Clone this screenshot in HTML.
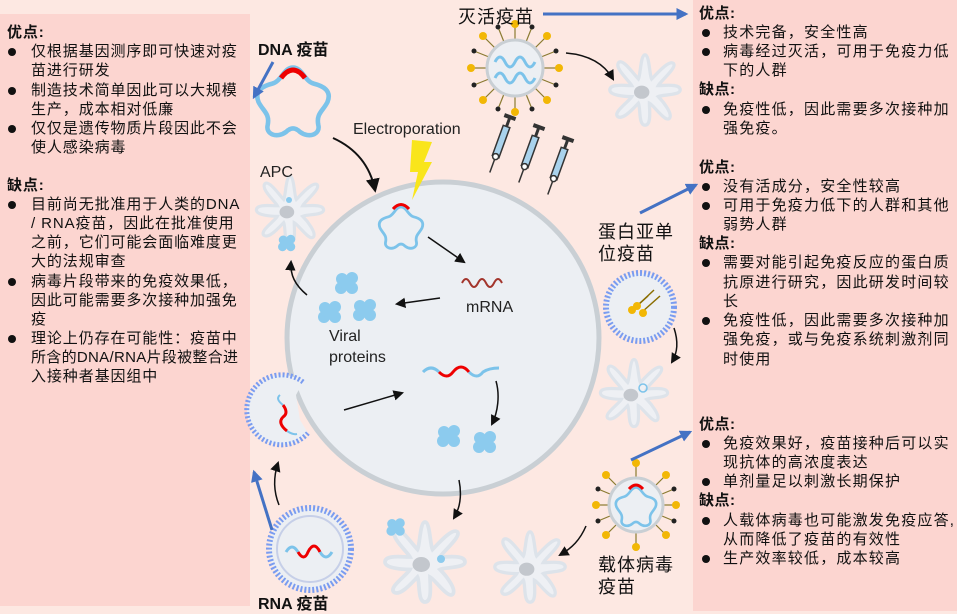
<!DOCTYPE html>
<html><head><meta charset="utf-8">
<style>
html,body{margin:0;padding:0;}
body{width:957px;height:611px;position:relative;overflow:hidden;background:#fde8e2;font-family:"Liberation Sans","Noto Sans CJK SC",sans-serif;}
.box{position:absolute;background:#fcd5d0;}
.t{position:absolute;font-size:15px;letter-spacing:1.2px;line-height:19px;white-space:nowrap;color:#111;font-family:"Liberation Sans","Noto Sans CJK SC",sans-serif;}
.l .t{letter-spacing:0.9px;}
.h{font-weight:bold;letter-spacing:0.5px;}
.b{position:absolute;width:8px;height:8px;border-radius:50%;background:#111;}
svg{position:absolute;left:0;top:0;}
.lab{position:absolute;font-size:18px;white-space:nowrap;color:#111;font-family:"Liberation Sans","Noto Sans CJK SC",sans-serif;letter-spacing:1px;}
</style></head><body>
<div class="box" style="left:0;top:14px;width:250px;height:592px;"></div>
<div class="box" style="left:693px;top:0;width:264px;height:611px;"></div>

<svg width="957" height="611" viewBox="0 0 957 611">
<defs>
<marker id="ah" viewBox="0 0 10 10" refX="8" refY="5" markerWidth="7" markerHeight="7" orient="auto"><path d="M0,0 L10,5 L0,10 z" fill="#111"/></marker>
<marker id="bh" viewBox="0 0 10 10" refX="8" refY="5" markerWidth="4" markerHeight="4" orient="auto"><path d="M0,0 L10,5 L0,10 z" fill="#4472c4"/></marker>
<g id="apc">
<path d="M0,-32 C4,-32 4,-14 6,-10 C10,-14 22,-28 26,-24 C29,-20 14,-8 12,-4 C18,-4 32,-6 32,0 C32,5 16,4 12,6 C16,10 26,22 22,26 C18,29 8,14 4,12 C4,18 6,32 0,32 C-6,32 -4,16 -6,12 C-10,16 -20,28 -25,24 C-29,20 -14,10 -12,6 C-18,6 -32,5 -32,0 C-32,-6 -18,-4 -12,-4 C-14,-8 -28,-20 -24,-25 C-20,-29 -10,-14 -6,-10 C-4,-14 -4,-32 0,-32 Z" fill="#eef0f4" stroke="#dde3ea" stroke-width="3"/>
<ellipse cx="-3" cy="2" rx="7" ry="6" fill="#c3c7cd"/>
</g>
<g id="blob"><circle cx="-5" cy="-4" r="6" fill="#8ccbee"/><circle cx="5" cy="-5" r="6" fill="#8ccbee"/><circle cx="-6" cy="5" r="6" fill="#8ccbee"/><circle cx="5" cy="5" r="6" fill="#8ccbee"/><circle cx="0" cy="0" r="7" fill="#8ccbee"/></g>
<path id="star" d="M0,-30 C8,-30 10,-18 18,-16 C26,-14 34,-10 30,0 C26,8 20,10 22,20 C24,28 14,32 6,26 C2,22 -2,22 -6,26 C-14,32 -24,28 -22,20 C-20,10 -26,8 -30,0 C-34,-10 -26,-14 -18,-16 C-10,-18 -8,-30 0,-30 Z" fill="none" stroke="#7cc3ea" stroke-width="4"/>
</defs>

<!-- big cell -->
<circle cx="443" cy="338" r="156" fill="#eceff3" stroke="#c9cfd4" stroke-width="5"/>

<!-- RNA fused liposome -->
<path d="M303,382 A35,35 0 1 0 308,433 L300,420 L296,395 Z" fill="#eceff3"/>
<path d="M303,382 A35,35 0 1 0 308,433" stroke="#7a9cf0" stroke-width="5" stroke-dasharray="2 2" fill="none"/>
<path d="M283,405 q6,8 0,12 q-6,6 4,14" stroke="#e00" stroke-width="3" fill="none"/>
<path d="M283,405 q-8,-6 -3,-10" stroke="#7cc3ea" stroke-width="2" fill="none"/>
<path d="M287,431 q6,4 10,3" stroke="#7cc3ea" stroke-width="2" fill="none"/>

<!-- inactivated virus -->
<g transform="translate(515,68)">
<g stroke="#8a7a30" stroke-width="1.2">
<line x1="0" y1="-28" x2="0" y2="-44"/><line x1="0" y1="28" x2="0" y2="44"/><line x1="-28" y1="0" x2="-44" y2="0"/><line x1="28" y1="0" x2="44" y2="0"/>
<line x1="20" y1="20" x2="32" y2="32"/><line x1="-20" y1="20" x2="-32" y2="32"/><line x1="20" y1="-20" x2="32" y2="-32"/><line x1="-20" y1="-20" x2="-32" y2="-32"/>
<line x1="26" y1="11" x2="41" y2="17"/><line x1="-26" y1="11" x2="-41" y2="17"/><line x1="26" y1="-11" x2="41" y2="-17"/><line x1="-26" y1="-11" x2="-41" y2="-17"/>
<line x1="11" y1="26" x2="17" y2="41"/><line x1="-11" y1="26" x2="-17" y2="41"/><line x1="11" y1="-26" x2="17" y2="-41"/><line x1="-11" y1="-26" x2="-17" y2="-41"/>
</g>
<g fill="#f2b705">
<circle cx="0" cy="-44" r="4"/><circle cx="0" cy="44" r="4"/><circle cx="-44" cy="0" r="4"/><circle cx="44" cy="0" r="4"/>
<circle cx="32" cy="32" r="4"/><circle cx="-32" cy="32" r="4"/><circle cx="32" cy="-32" r="4"/><circle cx="-32" cy="-32" r="4"/>
</g>
<g fill="#222"><circle cx="41" cy="17" r="2.5"/><circle cx="-41" cy="17" r="2.5"/><circle cx="41" cy="-17" r="2.5"/><circle cx="-41" cy="-17" r="2.5"/>
<circle cx="17" cy="41" r="2.5"/><circle cx="-17" cy="41" r="2.5"/><circle cx="17" cy="-41" r="2.5"/><circle cx="-17" cy="-41" r="2.5"/></g>
<circle r="28" fill="#eceff3" stroke="#c9cfd4" stroke-width="3"/>
<path d="M-20,-6 q5,-10 10,0 q5,10 10,0 q5,-10 10,0 q5,10 10,0" stroke="#7cc3ea" stroke-width="3" fill="none"/>
<path d="M-20,10 q5,-10 10,0 q5,10 10,0 q5,-10 10,0 q5,10 10,0" stroke="#7cc3ea" stroke-width="3" fill="none"/>
</g>
<path d="M566,53 C590,55 605,65 613,79" stroke="#111" stroke-width="1.5" fill="none" marker-end="url(#ah)"/>
<use href="#apc" transform="translate(645,90) scale(1.1)"/>

<!-- syringes -->
<g stroke="#333" stroke-width="1.5">
<g transform="translate(498,150) rotate(20)"><rect x="-3.5" y="-25" width="7" height="32" fill="#a9d2ec"/><line x1="0" y1="-25" x2="0" y2="-35" stroke-width="3"/><line x1="-6" y1="-35" x2="6" y2="-35" stroke-width="4"/><line x1="0" y1="7" x2="0" y2="24"/><circle cx="0" cy="7" r="3" fill="#fff"/></g>
<g transform="translate(527,160) rotate(20)"><rect x="-3.5" y="-25" width="7" height="32" fill="#a9d2ec"/><line x1="0" y1="-25" x2="0" y2="-35" stroke-width="3"/><line x1="-6" y1="-35" x2="6" y2="-35" stroke-width="4"/><line x1="0" y1="7" x2="0" y2="24"/><circle cx="0" cy="7" r="3" fill="#fff"/></g>
<g transform="translate(556,172) rotate(20)"><rect x="-3.5" y="-25" width="7" height="32" fill="#a9d2ec"/><line x1="0" y1="-25" x2="0" y2="-35" stroke-width="3"/><line x1="-6" y1="-35" x2="6" y2="-35" stroke-width="4"/><line x1="0" y1="7" x2="0" y2="24"/><circle cx="0" cy="7" r="3" fill="#fff"/></g>
</g>

<!-- DNA plasmid -->
<use href="#star" transform="translate(293,102) scale(1.15)"/>
<path d="M281,78 Q293,62 305,78" stroke="#e00" stroke-width="5" fill="none"/>
<line x1="273" y1="62" x2="254" y2="97" stroke="#4472c4" stroke-width="3" marker-end="url(#bh)"/>
<path d="M333,138 C355,148 370,165 375,190" stroke="#111" stroke-width="2" fill="none" marker-end="url(#ah)"/>
<polygon points="412,140 432,142 424,162 432,162 412,200 418,172 410,172" fill="#f9e51b"/>
<use href="#star" transform="translate(401,228) scale(0.7)"/>
<path d="M393,209 Q401,200 409,209" stroke="#e00" stroke-width="3" fill="none"/>
<line x1="428" y1="237" x2="464" y2="262" stroke="#111" stroke-width="1.5" marker-end="url(#ah)"/>
<path d="M462,283 q4,-8 8,0 q4,8 8,0 q4,-8 8,0 q4,8 8,0 q4,-8 8,0" stroke="#a3352c" stroke-width="2" fill="none"/>
<line x1="440" y1="298" x2="397" y2="304" stroke="#111" stroke-width="1.5" marker-end="url(#ah)"/>
<use href="#blob" transform="translate(347,283)"/>
<use href="#blob" transform="translate(330,312)"/>
<use href="#blob" transform="translate(365,310)"/>
<path d="M423,372 q8,-8 16,0" stroke="#7cc3ea" stroke-width="3" fill="none"/>
<path d="M439,372 q8,8 14,0 q8,-10 16,0" stroke="#e00" stroke-width="3" fill="none"/>
<path d="M469,372 q8,8 14,0 q6,-4 16,-4" stroke="#7cc3ea" stroke-width="3" fill="none"/>
<line x1="344" y1="410" x2="402" y2="393" stroke="#111" stroke-width="1.5" marker-end="url(#ah)"/>
<path d="M496,381 C500,395 498,412 492,424" stroke="#111" stroke-width="1.5" fill="none" marker-end="url(#ah)"/>
<use href="#blob" transform="translate(449,436)"/>
<use href="#blob" transform="translate(485,442)"/>

<!-- APC left -->
<use href="#apc" transform="translate(290,210) scale(1.05)"/>
<circle cx="289" cy="200" r="3" fill="#8ccbee"/>
<use href="#blob" transform="translate(287,243) scale(0.75)"/>
<path d="M307,295 C295,285 290,275 291,262" stroke="#111" stroke-width="1.5" fill="none" marker-end="url(#ah)"/>

<!-- RNA LNP -->
<circle cx="310" cy="549" r="41" fill="#eceff3" stroke="#7a9cf0" stroke-width="6" stroke-dasharray="2 2"/>
<circle cx="310" cy="549" r="33" fill="none" stroke="#c6cfe8" stroke-width="2"/>
<path d="M286,552 q6,-10 12,0" stroke="#7cc3ea" stroke-width="3" fill="none"/>
<path d="M298,552 q6,10 10,0 q6,-12 12,0" stroke="#e00" stroke-width="3" fill="none"/>
<path d="M320,552 q6,10 12,0" stroke="#7cc3ea" stroke-width="3" fill="none"/>
<line x1="272" y1="530" x2="254" y2="472" stroke="#4472c4" stroke-width="3" marker-end="url(#bh)"/>
<path d="M279,505 C273,490 274,475 278,463" stroke="#111" stroke-width="1.5" fill="none" marker-end="url(#ah)"/>

<!-- bottom APCs -->
<path d="M459,480 C462,495 460,508 454,518" stroke="#111" stroke-width="1.5" fill="none" marker-end="url(#ah)"/>
<use href="#apc" transform="translate(425,562) scale(1.25)"/>
<circle cx="441" cy="559" r="4" fill="#8ccbee"/>
<use href="#blob" transform="translate(396,527) scale(0.8)"/>
<use href="#apc" transform="translate(530,567) scale(1.1)"/>
<path d="M586,526 C580,540 572,548 560,555" stroke="#111" stroke-width="1.5" fill="none" marker-end="url(#ah)"/>

<!-- vector virus -->
<g transform="translate(636,505)">
<g stroke="#8a7a30" stroke-width="1.2">
<line x1="0" y1="-28" x2="0" y2="-42"/><line x1="0" y1="28" x2="0" y2="42"/><line x1="-28" y1="0" x2="-40" y2="0"/><line x1="28" y1="0" x2="40" y2="0"/>
<line x1="20" y1="20" x2="30" y2="30"/><line x1="-20" y1="20" x2="-30" y2="30"/><line x1="20" y1="-20" x2="30" y2="-30"/><line x1="-20" y1="-20" x2="-30" y2="-30"/>
<line x1="26" y1="11" x2="38" y2="16"/><line x1="-26" y1="11" x2="-38" y2="16"/><line x1="26" y1="-11" x2="38" y2="-16"/><line x1="-26" y1="-11" x2="-38" y2="-16"/>
</g>
<g fill="#f2b705">
<circle cx="0" cy="-42" r="4"/><circle cx="0" cy="42" r="4"/><circle cx="-40" cy="0" r="4"/><circle cx="40" cy="0" r="4"/>
<circle cx="30" cy="30" r="4"/><circle cx="-30" cy="30" r="4"/><circle cx="30" cy="-30" r="4"/><circle cx="-30" cy="-30" r="4"/>
</g>
<g fill="#222"><circle cx="38" cy="16" r="2.5"/><circle cx="-38" cy="16" r="2.5"/><circle cx="38" cy="-16" r="2.5"/><circle cx="-38" cy="-16" r="2.5"/></g>
<circle r="27" fill="#eceff3" stroke="#c9cfd4" stroke-width="3"/>
<use href="#star" transform="translate(0,2) scale(0.65)"/>
<path d="M-7,-16 Q0,-24 7,-16" stroke="#e00" stroke-width="3" fill="none"/>
</g>
<line x1="631" y1="460" x2="690" y2="432" stroke="#4472c4" stroke-width="3" marker-end="url(#bh)"/>

<!-- subunit -->
<circle cx="640" cy="307" r="34" fill="#eceff3" stroke="#7a9cf0" stroke-width="6" stroke-dasharray="2 2"/>
<g stroke="#8a6d00" stroke-width="1.5"><line x1="636" y1="307" x2="654" y2="290"/><line x1="642" y1="312" x2="660" y2="296"/><line x1="630" y1="312" x2="648" y2="296"/></g>
<g fill="#f2b705"><circle cx="632" cy="310" r="4"/><circle cx="637" cy="306" r="4"/><circle cx="643" cy="313" r="4"/></g>
<line x1="640" y1="213" x2="696" y2="185" stroke="#4472c4" stroke-width="3" marker-end="url(#bh)"/>
<path d="M674,328 C678,340 678,352 672,362" stroke="#111" stroke-width="1.5" fill="none" marker-end="url(#ah)"/>
<use href="#apc" transform="translate(634,393) scale(1.05)"/>
<circle cx="643" cy="388" r="4" fill="none" stroke="#7cc3ea" stroke-width="1.5"/>

<line x1="543" y1="14" x2="686" y2="14" stroke="#4472c4" stroke-width="3" marker-end="url(#bh)"/>

<text x="353" y="134" font-family="Liberation Sans, sans-serif" font-size="16" fill="#222">Electroporation</text>
<text x="260" y="177" font-family="Liberation Sans, sans-serif" font-size="16" fill="#222">APC</text>
<text x="466" y="312" font-family="Liberation Sans, sans-serif" font-size="16" fill="#222">mRNA</text>
<text x="329" y="341" font-family="Liberation Sans, sans-serif" font-size="16" fill="#222">Viral</text>
<text x="329" y="362" font-family="Liberation Sans, sans-serif" font-size="16" fill="#222">proteins</text>
</svg>

<div class="lab" style="left:458px;top:3px;">灭活疫苗</div>
<div class="lab" style="left:258px;top:36px;font-size:16px;font-weight:bold;letter-spacing:0;">DNA 疫苗</div>
<div class="lab" style="left:258px;top:590px;font-size:16px;font-weight:bold;letter-spacing:0;">RNA 疫苗</div>
<div class="lab" style="left:598px;top:221px;line-height:22px;">蛋白亚单<br>位疫苗</div>
<div class="lab" style="left:598px;top:554px;line-height:22px;">载体病毒<br>疫苗</div>

<!-- left text -->
<div class="l">
<div class="t h" style="left:7px;top:23px;">优点:</div>
<div class="b" style="left:8px;top:48px"></div><div class="t" style="left:31px;top:42px;">仅根据基因测序即可快速对疫</div>
<div class="t" style="left:31px;top:61px;">苗进行研发</div>
<div class="b" style="left:8px;top:87px"></div><div class="t" style="left:31px;top:81px;">制造技术简单因此可以大规模</div>
<div class="t" style="left:31px;top:100px;">生产，成本相对低廉</div>
<div class="b" style="left:8px;top:125px"></div><div class="t" style="left:31px;top:119px;">仅仅是遗传物质片段因此不会</div>
<div class="t" style="left:31px;top:138px;">使人感染病毒</div>
<div class="t h" style="left:7px;top:176px;">缺点:</div>
<div class="b" style="left:8px;top:201px"></div><div class="t" style="left:31px;top:195px;">目前尚无批准用于人类的DNA</div>
<div class="t" style="left:31px;top:214px;">/ RNA疫苗，因此在批准使用</div>
<div class="t" style="left:31px;top:233px;">之前，它们可能会面临难度更</div>
<div class="t" style="left:31px;top:252px;">大的法规审查</div>
<div class="b" style="left:8px;top:278px"></div><div class="t" style="left:31px;top:272px;">病毒片段带来的免疫效果低，</div>
<div class="t" style="left:31px;top:291px;">因此可能需要多次接种加强免</div>
<div class="t" style="left:31px;top:310px;">疫</div>
<div class="b" style="left:8px;top:335px"></div><div class="t" style="left:31px;top:329px;">理论上仍存在可能性：疫苗中</div>
<div class="t" style="left:31px;top:348px;letter-spacing:0.3px;">所含的DNA/RNA片段被整合进</div>
<div class="t" style="left:31px;top:367px;">入接种者基因组中</div>
</div>

<!-- right text -->
<div class="t h" style="left:699px;top:4px;">优点:</div>
<div class="b" style="left:702px;top:29px"></div><div class="t" style="left:723px;top:23px;">技术完备，安全性高</div>
<div class="b" style="left:702px;top:48px"></div><div class="t" style="left:723px;top:42px;">病毒经过灭活，可用于免疫力低</div>
<div class="t" style="left:723px;top:61px;">下的人群</div>
<div class="t h" style="left:699px;top:80px;">缺点:</div>
<div class="b" style="left:702px;top:106px"></div><div class="t" style="left:723px;top:100px;">免疫性低，因此需要多次接种加</div>
<div class="t" style="left:723px;top:119px;">强免疫。</div>
<div class="t h" style="left:699px;top:158px;">优点:</div>
<div class="b" style="left:702px;top:183px"></div><div class="t" style="left:723px;top:177px;">没有活成分，安全性较高</div>
<div class="b" style="left:702px;top:202px"></div><div class="t" style="left:723px;top:196px;">可用于免疫力低下的人群和其他</div>
<div class="t" style="left:723px;top:215px;">弱势人群</div>
<div class="t h" style="left:699px;top:234px;">缺点:</div>
<div class="b" style="left:702px;top:259px"></div><div class="t" style="left:723px;top:253px;">需要对能引起免疫反应的蛋白质</div>
<div class="t" style="left:723px;top:273px;">抗原进行研究，因此研发时间较</div>
<div class="t" style="left:723px;top:292px;">长</div>
<div class="b" style="left:702px;top:317px"></div><div class="t" style="left:723px;top:311px;">免疫性低，因此需要多次接种加</div>
<div class="t" style="left:723px;top:330px;">强免疫，或与免疫系统刺激剂同</div>
<div class="t" style="left:723px;top:350px;">时使用</div>
<div class="t h" style="left:699px;top:415px;">优点:</div>
<div class="b" style="left:702px;top:440px"></div><div class="t" style="left:723px;top:434px;">免疫效果好，疫苗接种后可以实</div>
<div class="t" style="left:723px;top:453px;">现抗体的高浓度表达</div>
<div class="b" style="left:702px;top:478px"></div><div class="t" style="left:723px;top:472px;">单剂量足以刺激长期保护</div>
<div class="t h" style="left:699px;top:491px;">缺点:</div>
<div class="b" style="left:702px;top:517px"></div><div class="t" style="left:723px;top:511px;">人载体病毒也可能激发免疫应答,</div>
<div class="t" style="left:723px;top:530px;">从而降低了疫苗的有效性</div>
<div class="b" style="left:702px;top:555px"></div><div class="t" style="left:723px;top:549px;">生产效率较低，成本较高</div>
</body></html>
